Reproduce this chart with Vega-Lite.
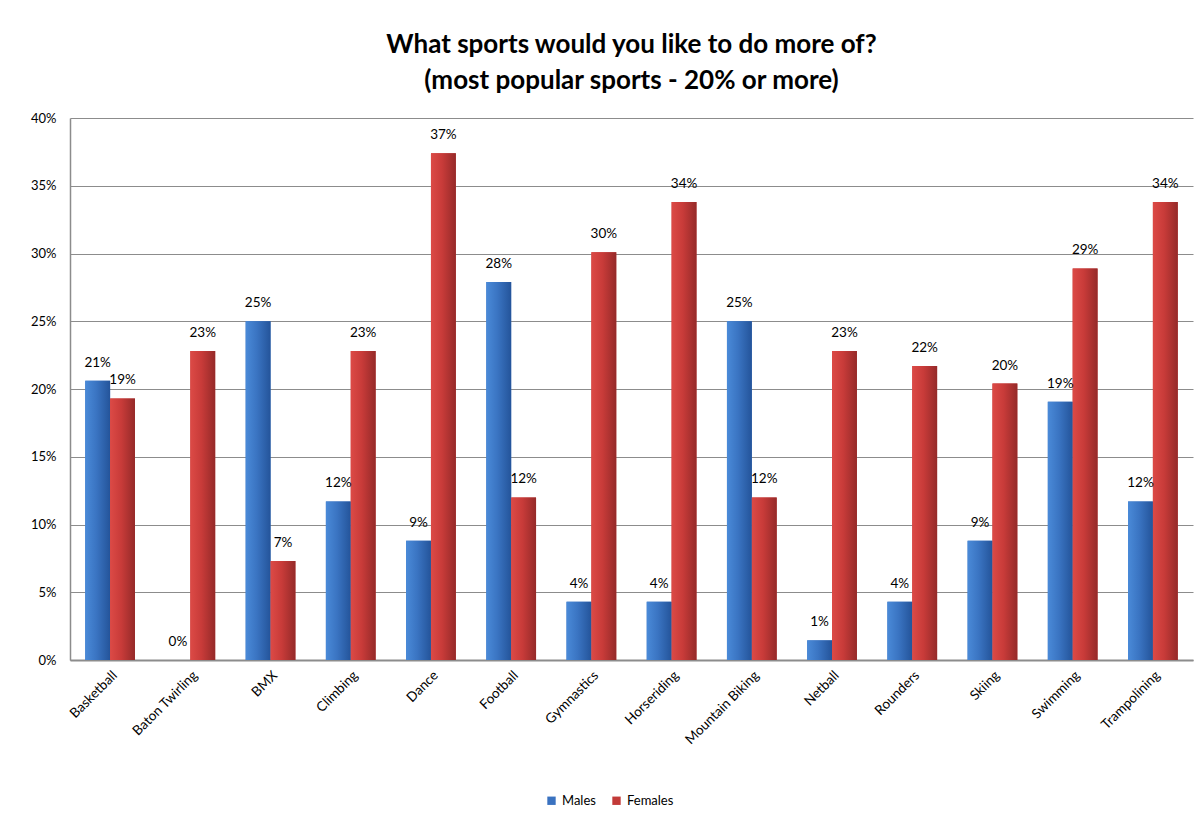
{
  "$schema": "https://vega.github.io/schema/vega-lite/v6.json",
  "width": 1123,
  "height": 542,
  "autosize": {"type": "none"},
  "padding": {"left": 70, "top": 118, "right": 9, "bottom": 170},
  "background": "white",
  "title": {
    "text": ["What sports would you like to do more of?", "(most popular sports - 20% or more)"],
    "font": "Lato",
    "fontSize": 26,
    "fontWeight": "bold",
    "color": "#000000",
    "anchor": "middle",
    "offset": 18,
    "lineHeight": 36
  },
  "data": {
    "values": [
      {"sport": "Basketball", "gender": "Males", "value": 0.206},
      {"sport": "Basketball", "gender": "Females", "value": 0.193},
      {"sport": "Baton Twirling", "gender": "Males", "value": 0.0},
      {"sport": "Baton Twirling", "gender": "Females", "value": 0.228},
      {"sport": "BMX", "gender": "Males", "value": 0.25},
      {"sport": "BMX", "gender": "Females", "value": 0.073},
      {"sport": "Climbing", "gender": "Males", "value": 0.117},
      {"sport": "Climbing", "gender": "Females", "value": 0.228},
      {"sport": "Dance", "gender": "Males", "value": 0.088},
      {"sport": "Dance", "gender": "Females", "value": 0.374},
      {"sport": "Football", "gender": "Males", "value": 0.279},
      {"sport": "Football", "gender": "Females", "value": 0.12},
      {"sport": "Gymnastics", "gender": "Males", "value": 0.043},
      {"sport": "Gymnastics", "gender": "Females", "value": 0.301},
      {"sport": "Horseriding", "gender": "Males", "value": 0.043},
      {"sport": "Horseriding", "gender": "Females", "value": 0.338},
      {"sport": "Mountain Biking", "gender": "Males", "value": 0.25},
      {"sport": "Mountain Biking", "gender": "Females", "value": 0.12},
      {"sport": "Netball", "gender": "Males", "value": 0.0145},
      {"sport": "Netball", "gender": "Females", "value": 0.228},
      {"sport": "Rounders", "gender": "Males", "value": 0.043},
      {"sport": "Rounders", "gender": "Females", "value": 0.217},
      {"sport": "Skiing", "gender": "Males", "value": 0.088},
      {"sport": "Skiing", "gender": "Females", "value": 0.204},
      {"sport": "Swimming", "gender": "Males", "value": 0.1905},
      {"sport": "Swimming", "gender": "Females", "value": 0.289},
      {"sport": "Trampolining", "gender": "Males", "value": 0.117},
      {"sport": "Trampolining", "gender": "Females", "value": 0.338}
    ]
  },
  "encoding": {
    "x": {
      "field": "sport",
      "type": "nominal",
      "sort": null,
      "scale": {"paddingInner": 0.38, "paddingOuter": 0.19},
      "axis": {
        "title": null,
        "labelAngle": -45,
        "labelFont": "Lato",
        "labelFontSize": 13.5,
        "labelColor": "#000000",
        "labelPadding": 8,
        "ticks": false,
        "domainColor": "#8c8c8c",
        "domainWidth": 2
      }
    },
    "xOffset": {"field": "gender", "type": "nominal", "sort": ["Males", "Females"], "scale": {"paddingInner": 0}},
    "y": {
      "field": "value",
      "type": "quantitative",
      "scale": {"domain": [0, 0.4], "nice": false},
      "axis": {
        "title": null,
        "format": ".0%",
        "values": [0, 0.05, 0.1, 0.15, 0.2, 0.25, 0.3, 0.35, 0.4],
        "labelFont": "Lato",
        "labelFontSize": 13,
        "labelColor": "#000000",
        "labelPadding": 14,
        "ticks": false,
        "gridColor": "#8c8c8c",
        "gridWidth": 1,
        "domainColor": "#8c8c8c",
        "domainWidth": 1.5
      }
    }
  },
  "layer": [
    {
      "mark": {"type": "bar"},
      "encoding": {
        "color": {
          "field": "gender",
          "type": "nominal",
          "sort": ["Males", "Females"],
          "scale": {"domain": ["Males", "Females"], "range": ["#3a72c0", "#c23a38"]},
          "legend": {
            "title": null,
            "orient": "none",
            "legendX": 475,
            "legendY": 676,
            "direction": "horizontal",
            "symbolType": "square",
            "symbolSize": 70,
            "labelFont": "Lato",
            "labelFontSize": 13,
            "labelColor": "#000000",
            "columnPadding": 14
          }
        }
      }
    },
    {
      "transform": [{"filter": "datum.gender === 'Males'"}],
      "mark": {
        "type": "bar",
        "color": {
          "gradient": "linear", "x1": 0, "x2": 1, "y1": 0, "y2": 0,
          "stops": [
            {"offset": 0, "color": "#4a8ad8"},
            {"offset": 0.45, "color": "#3a74c2"},
            {"offset": 1, "color": "#24549a"}
          ]
        }
      }
    },
    {
      "transform": [{"filter": "datum.gender === 'Females'"}],
      "mark": {
        "type": "bar",
        "color": {
          "gradient": "linear", "x1": 0, "x2": 1, "y1": 0, "y2": 0,
          "stops": [
            {"offset": 0, "color": "#dc4a46"},
            {"offset": 0.45, "color": "#c83b39"},
            {"offset": 1, "color": "#952a29"}
          ]
        }
      }
    },
    {
      "mark": {"type": "text", "dy": -11, "font": "Lato", "fontSize": 13.5, "color": "#000000", "baseline": "bottom"},
      "encoding": {
        "text": {"field": "value", "type": "quantitative", "format": ".0%"}
      }
    }
  ],
  "config": {
    "view": {"stroke": null}
  }
}
